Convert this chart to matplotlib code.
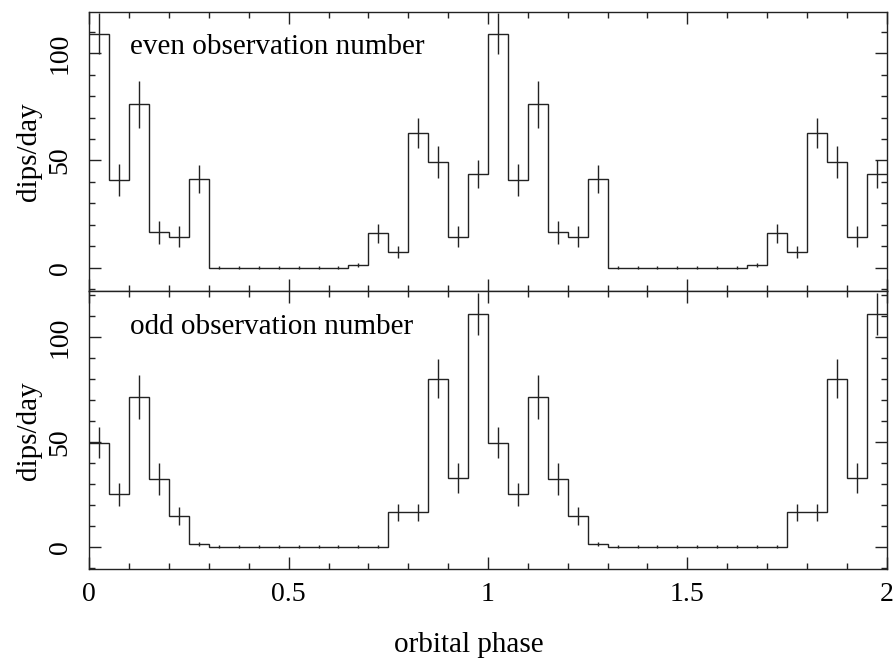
import numpy as np
import matplotlib
matplotlib.use("Agg")
import matplotlib.pyplot as plt
from matplotlib.ticker import MultipleLocator, FuncFormatter

plt.rcParams['font.family'] = ['Liberation Serif', 'DejaVu Serif']

# Phase bins (width 0.05) over one orbital cycle; the chart shows two cycles
bin_edges_one_cycle = [round(0.05 * i, 2) for i in range(21)]

even_rate = [109.2, 41.0, 76.2, 16.4, 14.5, 41.3, 0, 0, 0, 0,
             0, 0, 0, 1.3, 16.1, 7.2, 62.8, 49.3, 14.5, 43.6]
even_err = [9.6, 7.4, 11.0, 5.5, 4.7, 6.5, 0.6, 0.6, 0.6, 0.6,
            0.6, 0.6, 0.6, 1.0, 4.4, 2.7, 7.2, 7.6, 4.7, 6.6]

odd_rate = [49.7, 25.0, 71.6, 32.5, 14.7, 1.3, 0, 0, 0, 0,
            0, 0, 0, 0, 0, 16.4, 16.4, 80.2, 32.7, 111.1]
odd_err = [7.5, 5.6, 10.4, 7.6, 4.4, 1.0, 0.6, 0.6, 0.6, 0.6,
           0.6, 0.6, 0.6, 0.6, 0.6, 4.0, 4.0, 9.4, 7.3, 9.9]

panel_labels = ["even observation number", "odd observation number"]
y_limits = [(-10.9, 119.4), (-10.8, 122.1)]

edges1 = np.array(bin_edges_one_cycle)
edges = np.concatenate([edges1, edges1[1:] + 1.0])
centers = 0.5 * (edges[:-1] + edges[1:])

fig = plt.figure(figsize=(8.94, 6.64), dpi=100)
L, R = 89.3 / 894, 886.7 / 894
tops = [11.7, 291.0]
bots = [291.0, 569.3]
axes = []
for i in range(2):
    y0 = 1 - bots[i] / 664
    h = (bots[i] - tops[i]) / 664
    axes.append(fig.add_axes([L, y0, R - L, h]))

lc = '#222222'
lw = 1.0
fmt = FuncFormatter(lambda v, p: '%g' % v)
for ax, rate, err, lab, yl in zip(axes, [even_rate, odd_rate], [even_err, odd_err],
                                  panel_labels, y_limits):
    vals = np.array(rate + rate)
    errs = np.array(err + err)
    ax.stairs(vals, edges, baseline=None, color=lc, lw=lw)
    ax.errorbar(centers, vals, yerr=errs, fmt='none', ecolor=lc, elinewidth=lw, capsize=0)
    ax.set_xlim(0, 2)
    ax.set_ylim(*yl)
    ax.xaxis.set_major_locator(MultipleLocator(0.5))
    ax.xaxis.set_minor_locator(MultipleLocator(0.1))
    ax.yaxis.set_major_locator(MultipleLocator(50))
    ax.yaxis.set_minor_locator(MultipleLocator(10))
    ax.xaxis.set_major_formatter(fmt)
    ax.yaxis.set_major_formatter(fmt)
    ax.tick_params(which='both', direction='in', top=True, right=True, color=lc, width=lw)
    ax.tick_params(which='major', length=8.6)
    ax.tick_params(which='minor', length=4.3)
    ax.tick_params(axis='y', which='major', labelsize=20, pad=12, labelrotation=90)
    ax.tick_params(axis='x', which='major', labelsize=20, pad=9)
    for lbl in ax.get_yticklabels():
        lbl.set_va('center')
    for s in ax.spines.values():
        s.set_color(lc)
        s.set_linewidth(lw)
    ax.set_ylabel("dips/day", fontsize=21, labelpad=4)
    ax.text((130 - 89.3) / (886.7 - 89.3), 0.872, lab, transform=ax.transAxes,
            fontsize=21, va='center', ha='left')

axes[0].tick_params(axis='x', labelbottom=False)

fig.text(469 / 894, 1 - 645 / 664, "orbital phase", fontsize=21, ha='center', va='center')

fig.savefig("out.png", dpi=100)
